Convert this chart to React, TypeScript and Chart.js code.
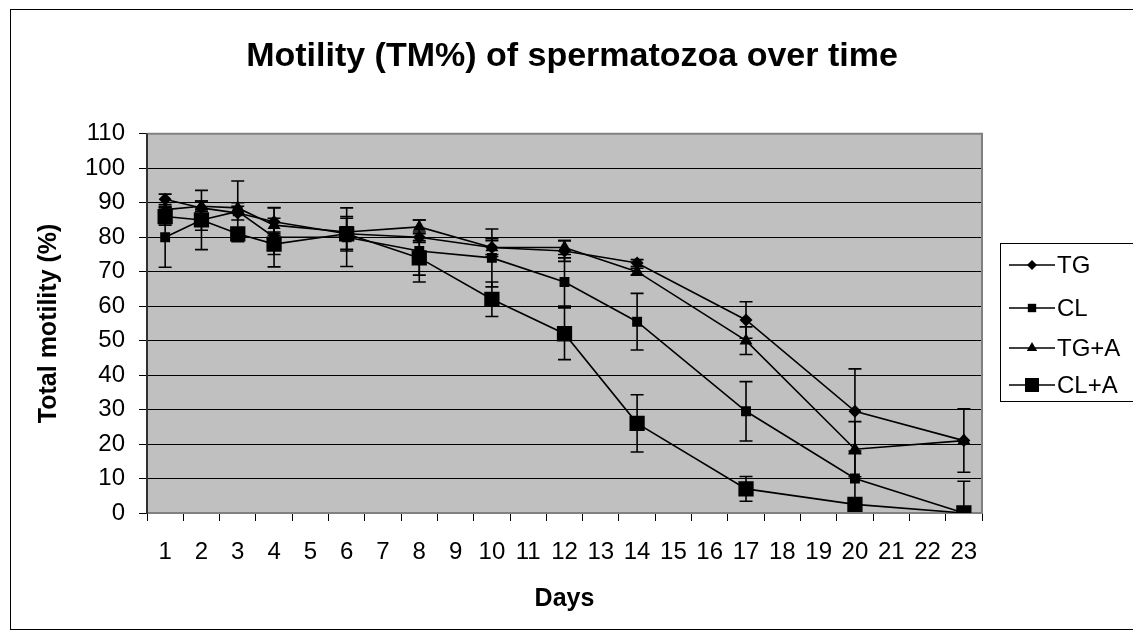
import React, { useEffect, useRef } from 'react';
import { Chart, registerables } from 'chart.js';

Chart.register(...registerables);

// ---- data ----
const dayLabels = ['1', '2', '3', '4', '5', '6', '7', '8', '9', '10', '11', '12', '13', '14', '15', '16', '17', '18', '19', '20', '21', '22', '23'];
const sampleDays = ['1', '2', '3', '4', '6', '8', '10', '12', '14', '17', '20', '23'];

const tgValues = [91, 88.5, 87, 84.5, 81, 80, 77, 76, 72.5, 56, 29.5, 21];
const tgErrors = [1.5, 2, 2, 4, 5, 1.5, 2, 3, 1, 5.3, 12.3, 9.2];

const clValues = [80, 85, 87.5, 80, 80, 76, 74, 67, 55.5, 29.5, 10, 0];
const clErrors = [8.7, 8.6, 8.8, 8.6, 8.5, 9, 8.4, 7, 8.2, 8.6, 8, 9.2];

const tgaValues = [88, 89, 88.5, 83.5, 81.5, 83, 77, 77, 70, 50, 18.5, 21];
const tgaErrors = [1, 1.5, 1.5, 2, 1.5, 2, 2.6, 2, 1, 4, 8, 0];

const claValues = [86, 85, 81, 78, 81, 74, 62, 52, 26, 7, 2.5, 0];
const claErrors = [2.5, 3, 1.5, 3, 4.5, 5, 5, 7.5, 8.3, 3.6, 1, 0];

const seriesNames = ['TG', 'CL', 'TG+A', 'CL+A'];
const yTickValues = [0, 10, 20, 30, 40, 50, 60, 70, 80, 90, 100, 110];

const FONT = "Arial, 'Liberation Sans', sans-serif";

function spread(values: number[]): (number | null)[] {
  return dayLabels.map((d) => {
    const k = sampleDays.indexOf(d);
    return k >= 0 ? values[k] : null;
  });
}

const markerStyles = [
  { style: 'rectRot', radius: 6.5, legendSize: 5 },
  { style: 'rect', radius: 7, legendSize: 4.2 },
  { style: 'triangle', radius: 7.5, legendSize: 6 },
  { style: 'rect', radius: 10.8, legendSize: 7 },
];

function drawMarker(ctx: CanvasRenderingContext2D, kind: string, x: number, y: number, s: number) {
  ctx.beginPath();
  if (kind === 'rectRot') {
    ctx.moveTo(x - s, y);
    ctx.lineTo(x, y - s);
    ctx.lineTo(x + s, y);
    ctx.lineTo(x, y + s);
  } else if (kind === 'triangle') {
    ctx.moveTo(x, y - s);
    ctx.lineTo(x + s * 0.87, y + s * 0.5);
    ctx.lineTo(x - s * 0.87, y + s * 0.5);
  } else {
    ctx.rect(x - s, y - s, 2 * s, 2 * s);
  }
  ctx.closePath();
  ctx.fill();
}

const backgroundPlugin = {
  id: 'bgFrame',
  beforeDraw(chart: any) {
    const { ctx, chartArea: a } = chart;
    ctx.save();
    ctx.fillStyle = '#ffffff';
    ctx.fillRect(0, 0, chart.width, chart.height);
    ctx.fillStyle = '#C0C0C0';
    ctx.fillRect(a.left, a.top, a.right - a.left, a.bottom - a.top);
    ctx.strokeStyle = '#000';
    ctx.lineWidth = 1;
    ctx.strokeRect(10.5, 9.5, 1300, 620);
    ctx.restore();
  },
  beforeDatasetsDraw(chart: any) {
    const { ctx, chartArea: a } = chart;
    ctx.save();
    ctx.strokeStyle = '#808080';
    ctx.lineWidth = 2;
    ctx.beginPath();
    ctx.moveTo(a.left, a.top);
    ctx.lineTo(a.right, a.top);
    ctx.lineTo(a.right, a.bottom);
    ctx.lineTo(a.left, a.bottom);
    ctx.stroke();
    ctx.strokeStyle = '#303030';
    ctx.beginPath();
    ctx.moveTo(a.left, a.top);
    ctx.lineTo(a.left, a.bottom + 1);
    ctx.stroke();
    ctx.restore();
  },
};

const errorBarPlugin = {
  id: 'errorBars',
  afterDatasetsDraw(chart: any) {
    const { ctx, chartArea: a } = chart;
    const xs = chart.scales.x;
    const ys = chart.scales.y;
    ctx.save();
    ctx.beginPath();
    ctx.rect(a.left, a.top, a.right - a.left, a.bottom - a.top);
    ctx.clip();
    ctx.strokeStyle = '#000';
    ctx.lineWidth = 1.6;
    chart.data.datasets.forEach((ds: any) => {
      ds.data.forEach((v: number | null, i: number) => {
        const e = ds.errors[i];
        if (v == null || !e) return;
        const px = xs.getPixelForValue(i);
        const pTop = ys.getPixelForValue(v + e);
        const pBot = ys.getPixelForValue(v - e);
        ctx.beginPath();
        ctx.moveTo(px, pTop);
        ctx.lineTo(px, pBot);
        ctx.moveTo(px - 6.5, pTop);
        ctx.lineTo(px + 6.5, pTop);
        ctx.moveTo(px - 6.5, pBot);
        ctx.lineTo(px + 6.5, pBot);
        ctx.stroke();
      });
    });
    ctx.restore();
  },
};

const legendPlugin = {
  id: 'lineLegend',
  afterDraw(chart: any) {
    const { ctx } = chart;
    const rows = [265, 308, 348, 385];
    ctx.save();
    ctx.strokeStyle = '#000';
    ctx.lineWidth = 1;
    ctx.strokeRect(1000.5, 243.5, 300, 158);
    ctx.font = `24px ${FONT}`;
    ctx.textBaseline = 'middle';
    ctx.textAlign = 'left';
    chart.data.datasets.forEach((ds: any, i: number) => {
      const y = rows[i];
      ctx.strokeStyle = '#000';
      ctx.lineWidth = 1.5;
      ctx.beginPath();
      ctx.moveTo(1009, y);
      ctx.lineTo(1055, y);
      ctx.stroke();
      ctx.fillStyle = '#000';
      drawMarker(ctx, markerStyles[i].style, 1032, y, markerStyles[i].legendSize);
      ctx.fillText(ds.label, 1057, y + 1);
    });
    ctx.restore();
  },
};

export default function App() {
  const canvasRef = useRef<HTMLCanvasElement | null>(null);

  useEffect(() => {
    if (!canvasRef.current) return;
    const allValues = [tgValues, clValues, tgaValues, claValues];
    const allErrors = [tgErrors, clErrors, tgaErrors, claErrors];
    const datasets = seriesNames.map((name, i) => ({
      label: name,
      data: spread(allValues[i]),
      errors: spread(allErrors[i]),
      borderColor: '#000',
      backgroundColor: '#000',
      borderWidth: 1.6,
      pointStyle: markerStyles[i].style,
      pointRadius: markerStyles[i].radius,
      pointBackgroundColor: '#000',
      pointBorderColor: '#000',
      pointBorderWidth: 0,
      spanGaps: true,
      tension: 0,
    }));

    const chart = new Chart(canvasRef.current, {
      type: 'line',
      data: { labels: dayLabels, datasets: datasets as any },
      plugins: [backgroundPlugin, errorBarPlugin, legendPlugin],
      options: {
        animation: false,
        responsive: false,
        maintainAspectRatio: false,
        layout: { padding: { left: 12, right: 1, top: 10, bottom: 4 } },
        plugins: {
          legend: { display: false },
          tooltip: { enabled: false },
          title: {
            display: true,
            text: 'Motility (TM%) of spermatozoa over time',
            color: '#000',
            font: { family: FONT, size: 34, weight: 'bold' },
            padding: { top: 26, bottom: 57 },
          },
        },
        scales: {
          x: {
            type: 'category',
            offset: true,
            grid: {
              offset: true,
              drawOnChartArea: false,
              drawTicks: true,
              tickLength: 8,
              color: '#000',
              lineWidth: 1,
            },
            border: { display: true, color: '#808080', width: 2 },
            ticks: {
              color: '#000',
              font: { family: FONT, size: 24 },
              padding: 17,
              maxRotation: 0,
              autoSkip: false,
            },
            title: {
              display: true,
              text: 'Days',
              color: '#000',
              font: { family: FONT, size: 25, weight: 'bold' },
              padding: { top: 0, bottom: 13 },
            },
            afterFit(scale: any) {
              scale.height = 114;
            },
          },
          y: {
            type: 'linear',
            position: 'left',
            min: 0,
            max: 110,
            afterBuildTicks(scale: any) {
              scale.ticks = yTickValues.map((v) => ({ value: v }));
            },
            grid: {
              color: '#000',
              lineWidth: 1,
              drawTicks: true,
              tickLength: 8,
            },
            border: { display: true, color: '#303030', width: 2 },
            ticks: {
              color: '#000',
              font: { family: FONT, size: 24 },
              padding: 14,
              stepSize: 10,
            },
            title: {
              display: true,
              text: 'Total motility (%)',
              color: '#000',
              font: { family: FONT, size: 25, weight: 'bold' },
              padding: { top: 22, bottom: 0 },
            },
            afterFit(scale: any) {
              scale.width = 135;
            },
          },
          yRight: {
            type: 'linear',
            position: 'right',
            display: true,
            grid: { display: false, drawTicks: false },
            border: { display: false },
            ticks: { display: false },
            afterFit(scale: any) {
              scale.width = 150;
            },
          },
        },
      } as any,
    });
    return () => chart.destroy();
  }, []);

  return (
    <div style={{ position: 'fixed', left: 0, top: 0, width: 1133, height: 631, background: '#fff' }}>
      <canvas ref={canvasRef} width={1133} height={631} style={{ display: 'block' }} />
    </div>
  );
}
